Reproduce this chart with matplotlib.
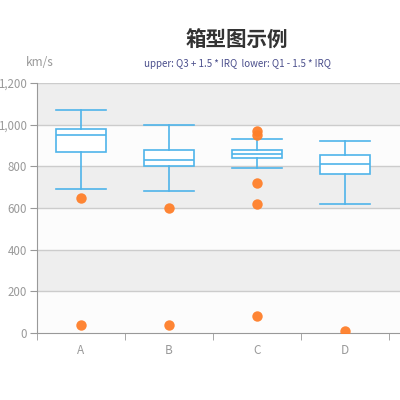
import matplotlib.pyplot as plt
from matplotlib.ticker import FuncFormatter

plt.rcParams['font.family'] = ['Noto Sans CJK SC', 'DejaVu Sans']

# ---- data ----
categories = ['A', 'B', 'C', 'D']
whisker_low = [693, 680, 790, 620]
q1 = [867, 800, 842, 762]
median = [950, 830, 858, 810]
q3 = [981, 880, 880, 856]
whisker_high = [1070, 1000, 930, 920]
outliers = [
    [650, 40],
    [600, 40],
    [970, 950, 720, 620, 80],
    [10],
]

box_color = '#4fb4ea'
dot_color = '#ff7f2a'
text_gray = '#999999'

fig = plt.figure(figsize=(4, 4), dpi=100)
ax = fig.add_axes([37 / 400, 1 - 333 / 400, 363 / 400, 250 / 400])

# alternating background bands
for k, lo in enumerate(range(0, 1200, 200)):
    ax.axhspan(lo, lo + 200, color='#fcfcfc' if k % 2 == 0 else '#eeeeee',
               zorder=0, lw=0)
for y in range(200, 1201, 200):
    ax.axhline(y, color='#cccccc', lw=1, zorder=1)

stats = []
for i, c in enumerate(categories):
    stats.append(dict(label=c, whislo=whisker_low[i], q1=q1[i], med=median[i],
                      q3=q3[i], whishi=whisker_high[i], fliers=[]))

ax.bxp(stats, positions=range(len(categories)), widths=0.57, patch_artist=True,
       showfliers=False,
       boxprops=dict(facecolor='white', edgecolor=box_color, lw=1.2),
       medianprops=dict(color=box_color, lw=1.2),
       whiskerprops=dict(color=box_color, lw=1.2),
       capprops=dict(color=box_color, lw=1.2),
       capwidths=0.57, zorder=3)

for i, vals in enumerate(outliers):
    ax.plot([i] * len(vals), vals, 'o', color=dot_color, ms=7.5, mec='none',
            alpha=0.95, zorder=4)

ax.set_xlim(-0.5, 3.625)
ax.set_ylim(0, 1200)
ax.set_yticks(range(0, 1201, 200))
ax.yaxis.set_major_formatter(FuncFormatter(lambda v, p: f'{int(v):,}'))
ax.set_xticks(range(len(categories)))
ax.set_xticklabels(categories)
ax.set_xticks([-0.5, 0.5, 1.5, 2.5, 3.5], minor=True)
ax.tick_params(axis='x', which='major', length=0, labelsize=8.5,
               colors=text_gray, pad=8)
ax.tick_params(axis='x', which='minor', length=5, color='#999999', direction='out')
ax.tick_params(axis='y', length=5, color='#999999', labelsize=8.3,
               labelcolor=text_gray, pad=2)

for s in ['top', 'right']:
    ax.spines[s].set_visible(False)
for s in ['left', 'bottom']:
    ax.spines[s].set_color('#999999')

fig.text(237 / 400, 1 - 40 / 400, '箱型图示例', ha='center', va='center',
         fontsize=14.8, fontweight='bold', color='#333333')
fig.text(237 / 400, 1 - 64 / 400, 'upper: Q3 + 1.5 * IRQ  lower: Q1 - 1.5 * IRQ',
         ha='center', va='center', fontsize=7, color='#4b4f8c')
fig.text(40 / 400, 1 - 63 / 400, 'km/s', ha='center', va='center',
         fontsize=8.5, color=text_gray)

fig.savefig('out.png', dpi=100)
